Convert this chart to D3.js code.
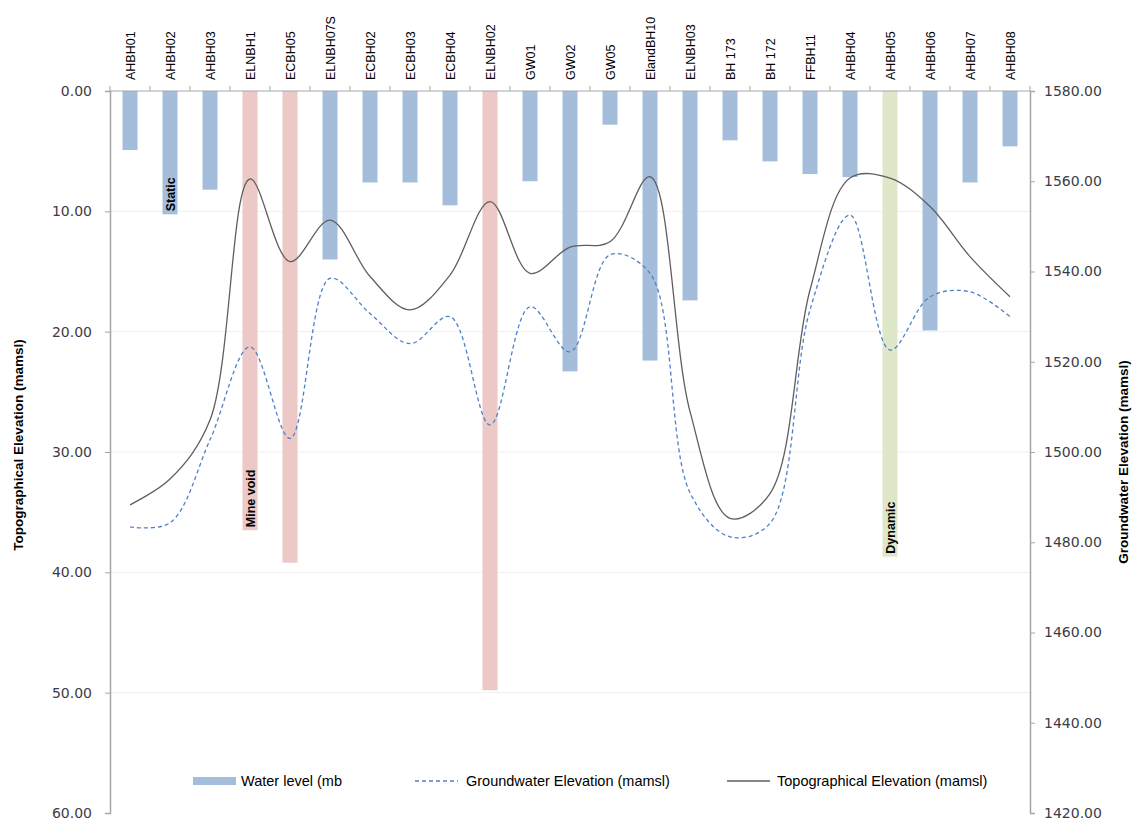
<!DOCTYPE html>
<html><head><meta charset="utf-8">
<script src="https://cdn.jsdelivr.net/npm/d3@7"></script>
<style>body{margin:0;background:#fff;} svg{display:block;}</style>
</head><body>
<svg id="c" width="1135" height="822"></svg>
<script>
const categories = ["AHBH01","AHBH02","AHBH03","ELNBH1","ECBH05","ELNBH07S","ECBH02","ECBH03","ECBH04","ELNBH02","GW01","GW02","GW05","ElandBH10","ELNBH03","BH 173","BH 172","FFBH11","AHBH04","AHBH05","AHBH06","AHBH07","AHBH08"];
const waterLevel = [4.9,10.25,8.2,36.5,39.2,14.0,7.6,7.6,9.5,49.8,7.5,23.3,2.8,22.4,17.4,4.1,5.85,6.9,7.15,38.7,19.9,7.6,4.6];
const barGroup = ["n","n","n","void","void","n","n","n","n","void","n","n","n","n","n","n","n","n","n","dyn","n","n","n"];
const groundwater = [1483.4,1484.3,1502.7,1523.3,1503.0,1538.5,1530.7,1524.0,1530.0,1506.0,1532.2,1522.2,1543.7,1539.6,1491.0,1481.2,1484.2,1531.5,1552.5,1522.6,1534.4,1535.5,1530.0];
const topographical = [1488.3,1494.0,1507.1,1560.5,1542.2,1551.4,1538.9,1531.5,1539.2,1555.5,1539.6,1545.4,1546.6,1561.0,1509.0,1485.3,1490.8,1535.9,1560.7,1560.7,1554.4,1543.3,1534.4];
const leftTicks = [0,10,20,30,40,50,60];
const rightTicks = [1420,1440,1460,1480,1500,1520,1540,1560,1580];
const annotations = [{cat:"AHBH02",text:"Static"},{cat:"ELNBH1",text:"Mine void"},{cat:"AHBH05",text:"Dynamic"}];
const legendItems = ["Water level (mb","Groundwater Elevation (mamsl)","Topographical Elevation (mamsl)"];

const colors = {n:"#a3bdda", void:"#ecc8c7", dyn:"#dfe7c9", gw:"#4f81c7", topo:"#5f5f5f", axis:"#a6a6a6", grid:"#efefef", text:"#3c3c46"};
const L = 110, R = 1030, T = 91, B = 813;
const svg = d3.select("#c");

const xBand = d3.scaleBand().domain(categories).range([L,R]).paddingInner(0.625).paddingOuter(0.3125);
const xStep = d3.scaleBand().domain(categories).range([L,R]).padding(0);
const xc = c => xStep(c) + xStep.bandwidth()/2;
const yL = d3.scaleLinear().domain([0,60]).range([T,B]);
const yR = d3.scaleLinear().domain([1420,1580]).range([B,T]);

// gridlines
svg.append("g").selectAll("line").data(leftTicks.slice(1,-1)).join("line")
  .attr("x1",L).attr("x2",R).attr("y1",d=>yL(d)).attr("y2",d=>yL(d))
  .attr("stroke",colors.grid).attr("stroke-width",1);

// bars
svg.append("g").selectAll("rect").data(categories).join("rect")
  .attr("x",c=>xBand(c)).attr("width",xBand.bandwidth())
  .attr("y",yL(0)).attr("height",(c,i)=>yL(waterLevel[i])-yL(0))
  .attr("fill",(c,i)=>colors[barGroup[i]]);

// annotations
svg.append("g").selectAll("text").data(annotations).join("text")
  .attr("transform",d=>{const i=categories.indexOf(d.cat);return `translate(${xc(d.cat)+4.5},${yL(waterLevel[i])-3}) rotate(-90)`;})
  .attr("font-family","Liberation Sans, Arial").attr("font-weight","bold").attr("font-size",12.5)
  .attr("fill","#000").text(d=>d.text);

// lines
const line = d3.line().x((d,i)=>xc(categories[i])).y(d=>yR(d)).curve(d3.curveCatmullRom.alpha(0.5));
svg.append("path").attr("d",line(groundwater)).attr("fill","none").attr("stroke",colors.gw).attr("stroke-width",1.3).attr("stroke-dasharray","4,3");
svg.append("path").attr("d",line(topographical)).attr("fill","none").attr("stroke",colors.topo).attr("stroke-width",1.3);

// left axis
const gl = svg.append("g").attr("transform",`translate(${L},0)`)
  .call(d3.axisLeft(yL).tickValues(leftTicks).tickFormat(d3.format(".2f")).tickSize(5).tickPadding(13));
// right axis
const gr = svg.append("g").attr("transform",`translate(${R},0)`)
  .call(d3.axisRight(yR).tickValues(rightTicks).tickFormat(d3.format(".2f")).tickSize(5).tickPadding(9));
[gl,gr].forEach(g=>{
  g.select(".domain").attr("stroke",colors.axis).attr("stroke-width",1.5);
  g.selectAll(".tick line").attr("stroke",colors.axis);
  g.selectAll(".tick text").attr("font-family","DejaVu Sans, Verdana").attr("font-size",14).attr("fill",colors.text);
});

// top category axis
const gt = svg.append("g").attr("transform",`translate(0,${T})`);
gt.append("line").attr("x1",L).attr("x2",R).attr("stroke",colors.axis).attr("stroke-width",1);
gt.selectAll("line.tk").data(categories.concat(["_end"])).join("line").attr("class","tk")
  .attr("x1",(c,i)=>i<categories.length?xStep(c):R).attr("x2",(c,i)=>i<categories.length?xStep(c):R)
  .attr("y1",-5).attr("y2",0).attr("stroke",colors.axis);
gt.selectAll("text").data(categories).join("text")
  .attr("transform",c=>`translate(${xc(c)+4.5},-11) rotate(-90)`)
  .attr("font-family","Liberation Sans, Arial").attr("font-size",12.5).attr("fill","#000").text(c=>c);

// axis titles
svg.append("text").attr("transform",`translate(23,445) rotate(-90)`).attr("text-anchor","middle")
  .attr("font-family","Liberation Sans, Arial").attr("font-weight","bold").attr("font-size",13.5).text("Topographical  Elevation (mamsl)");
svg.append("text").attr("transform",`translate(1128,462) rotate(-90)`).attr("text-anchor","middle")
  .attr("font-family","Liberation Sans, Arial").attr("font-weight","bold").attr("font-size",13.5).text("Groundwater Elevation (mamsl)");

// legend
const lg = svg.append("g").attr("font-family","Liberation Sans, Arial").attr("font-size",14.5).attr("fill","#000");
const ly = 781;
lg.append("rect").attr("x",193).attr("y",ly-4).attr("width",43).attr("height",8).attr("fill",colors.n);
lg.append("text").attr("x",241).attr("y",ly+5).text(legendItems[0]);
lg.append("line").attr("x1",415).attr("x2",458).attr("y1",ly).attr("y2",ly).attr("stroke",colors.gw).attr("stroke-width",1.3).attr("stroke-dasharray","4,3");
lg.append("text").attr("x",466).attr("y",ly+5).text(legendItems[1]);
lg.append("line").attr("x1",727).attr("x2",770).attr("y1",ly).attr("y2",ly).attr("stroke",colors.topo).attr("stroke-width",1.3);
lg.append("text").attr("x",777).attr("y",ly+5).text(legendItems[2]);
</script>
</body></html>
